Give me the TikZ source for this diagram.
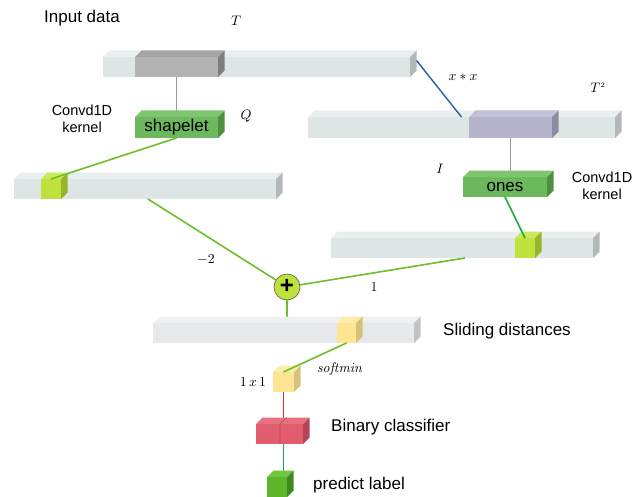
\documentclass[tikz,border=0pt]{standalone}
\usepackage[no-math]{fontspec}
\usepackage{graphicx}
\setmainfont{Liberation Sans}
\usetikzlibrary{calc}

% colours of the faces
\definecolor{barF}{HTML}{DDE5E5}\definecolor{barT}{HTML}{E9EEEE}\definecolor{barS}{HTML}{B2B7B7}
\definecolor{slF}{HTML}{E7E8E9}\definecolor{slT}{HTML}{EFF0F0}\definecolor{slS}{HTML}{C2C3C4}
\definecolor{gryF}{HTML}{B3B3B3}\definecolor{gryT}{HTML}{A6A6A6}\definecolor{gryS}{HTML}{7E7E7E}
\definecolor{purF}{HTML}{B6B3CD}\definecolor{purT}{HTML}{C3C1D8}\definecolor{purS}{HTML}{8E8BA6}
\definecolor{kerF}{HTML}{6CB85D}\definecolor{kerT}{HTML}{7EC66E}\definecolor{kerS}{HTML}{4F8F42}
\definecolor{limF}{HTML}{BCE23B}\definecolor{limT}{HTML}{C9EA5C}\definecolor{limS}{HTML}{98B42A}
\definecolor{yelF}{HTML}{FDE592}\definecolor{yelT}{HTML}{FEECAA}\definecolor{yelS}{HTML}{D8C27A}
\definecolor{redF}{HTML}{E15D6E}\definecolor{redT}{HTML}{E8707F}\definecolor{redS}{HTML}{B24656}
\definecolor{grnF}{HTML}{5CB629}\definecolor{grnT}{HTML}{70C63C}\definecolor{grnS}{HTML}{3F8A1C}
\definecolor{limeLine}{HTML}{6CBF2A}\definecolor{grnLine}{HTML}{1EAA3A}
\definecolor{blueLine}{HTML}{2A5E9E}\definecolor{grayLine}{HTML}{9A9A9A}\definecolor{redLine}{HTML}{EE2A2A}

% enlarged math for the symbol labels
\newcommand\mlab[1]{\scalebox{1.38}{$#1$}}

% front face as a named node, top and side faces drawn from its anchors
\def\dd{6.5}
\newcommand\cuboid[9]{%
  \node[facebox, fill=#6, minimum width={#4-#2}, minimum height={#5-#3}]
    (#1) at ({(#2+#4)/2},{(#3+#5)/2}) {#9};
  \fill[#7] (#1.north west) -- ++(\dd,-\dd) -- ($(#1.north east)+(\dd,-\dd)$)
    -- (#1.north east) -- cycle;
  \fill[#8] (#1.north east) -- ++(\dd,-\dd) -- ($(#1.south east)+(\dd,-\dd)$)
    -- (#1.south east) -- cycle;
}

\begin{document}
\begin{tikzpicture}[x=1pt,y=-1pt,
  facebox/.style={inner sep=0pt, outer sep=0pt, font=\fontsize{17}{17}\selectfont},
  lbl/.style={inner sep=1pt, font=\fontsize{17}{19}\selectfont},
  smlbl/.style={inner sep=1pt, align=center, font=\fontsize{14.5}{17}\selectfont},
  mlbl/.style={inner sep=1pt},
  conn/.style={line width=1.6pt},
]
\useasboundingbox (0,0) rectangle (644,497);

% ---------- input series T and its window ----------
\cuboid{b1}{103}{57}{410}{77}{barF}{barT}{barS}{}
\cuboid{g1}{135}{57}{218}{77}{gryF}{gryT}{gryS}{}
\node[lbl] (tin) at (82,18) {Input data};
\node[mlbl] (tT) at (236,21) {\mlab{T}};

% window to shapelet kernel
\draw[grayLine, line width=1.3pt] (g1.south) -- (g1.south |- 0,117);
\cuboid{shp}{135}{117}{218}{138}{kerF}{kerT}{kerS}{\raisebox{-2pt}{shapelet}}
\node[smlbl] (tk1) at (82,119) {Convd1D\\kernel};
\node[mlbl] (tQ) at (246,116) {\mlab{Q}};

% ---------- squared series T^2 ----------
\cuboid{b3}{308}{117}{615}{138}{barF}{barT}{barS}{}
\cuboid{p3}{469}{117}{552}{138}{purF}{purT}{purS}{}
\draw[blueLine, line width=1.4pt] ($(b1.east)+(\dd,-\dd)$) -- (b3.north);
\node[mlbl] (txx) at (463,77) {\mlab{x*x}};
\node[mlbl] (tT2) at (598,88) {\mlab{T^{\scriptscriptstyle 2}}};

\draw[grayLine, line width=1.3pt] (p3.south) -- (p3.south |- 0,177);
\cuboid{ones}{463}{177}{547}{197}{kerF}{kerT}{kerS}{\raisebox{-2pt}{ones}}
\node[mlbl] (tI) at (440,169) {\mlab{I}};
\node[smlbl] (tk2) at (602,186) {Convd1D\\kernel};

% ---------- convolution outputs ----------
\cuboid{b2}{14}{179}{276}{199}{barF}{barT}{barS}{}
\cuboid{c2}{41}{179}{61}{199}{limF}{limT}{limS}{}
\draw[limeLine, conn] (shp.south) -- (c2.north);

\cuboid{b4}{331}{238}{593}{258}{barF}{barT}{barS}{}
\cuboid{c4}{515}{238}{535}{258}{limF}{limT}{limS}{}
\draw[grnLine, conn] (ones.south) -- (c4.north);

% ---------- weighted sum ----------
\node[circle, draw=black!65, line width=0.6pt, fill=limF, minimum size=26pt,
      inner sep=0pt, font=\fontsize{24}{24}\selectfont\bfseries] (plus) at (287,287) {\raisebox{1pt}{+}};
\draw[limeLine, conn] ($(b2.south west)!0.511!(b2.south east)$) -- (plus);
\draw[limeLine, conn] ($(b4.south west)!0.511!(b4.south east)$) -- (plus);
\node[mlbl] (tm2) at (206,260) {\mlab{-2}};
\node[mlbl] (t1) at (374,287) {\mlab{1}};

% ---------- sliding distances ----------
\draw[limeLine, conn] (plus.south) -- (plus.south |- 0,323);
\cuboid{b5}{153}{323}{414}{343}{slF}{slT}{slS}{}
\cuboid{y5}{337}{323}{356}{343}{yelF}{yelT}{yelS}{}
\node[lbl, anchor=west] (tsd) at (442,331) {Sliding distances};

% ---------- softmin to a single value ----------
\cuboid{sc}{273}{372}{294}{392}{yelF}{yelT}{yelS}{}
\draw[limeLine, conn] (y5.south) -- (sc.north);
\node[mlbl] (tsm) at (340,369) {\mlab{\mathit{softmin}}};
\node[mlbl] (t11) at (253,382) {\mlab{1\,x\,1}};

% ---------- classifier and output ----------
\draw[redLine, line width=1.4pt] (sc.south) -- ++(0,30);
\cuboid{rb}{256}{424}{303}{444}{redF}{redT}{redS}{}
\draw[redS!80!redF, line width=0.7pt] (280,444) -- (280,424) -- ++(\dd,-\dd);
\node[lbl, anchor=west] (tbc) at (330,427) {Binary classifier};

\draw[grnLine, conn] (sc.south |- rb.south) -- ++(0,33);
\cuboid{pl}{267}{477}{287}{497}{grnF}{grnT}{grnS}{}
\node[lbl, anchor=west] (tpl) at (312,485) {predict label};
\end{tikzpicture}
\end{document}
